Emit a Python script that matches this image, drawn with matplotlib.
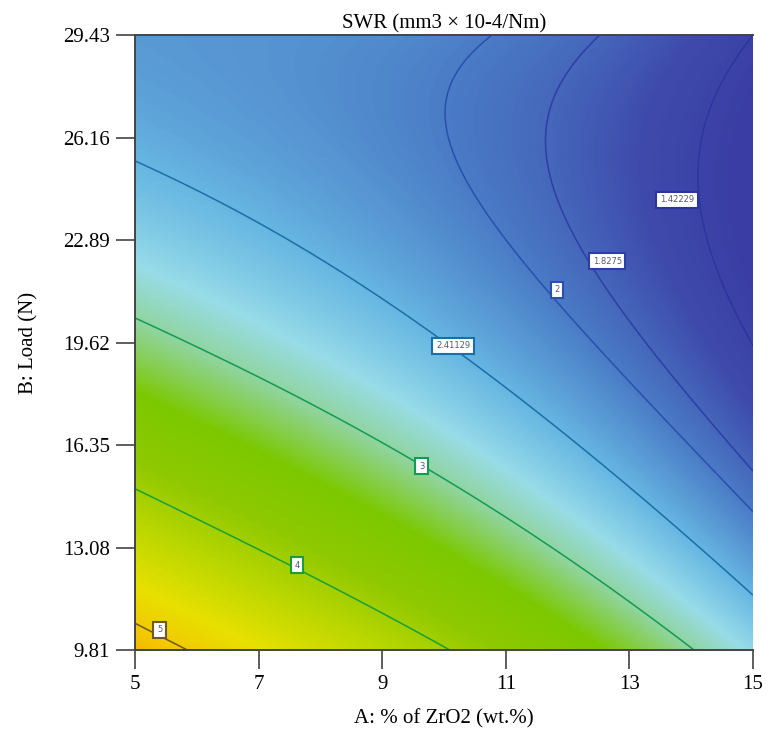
import numpy as np
import matplotlib.pyplot as plt
from matplotlib.colors import LinearSegmentedColormap, Normalize

plt.rcParams['font.family'] = ['Liberation Serif', 'DejaVu Serif']

# points: (ZrO2 wt.%, load N, SWR)
c_x = [5.00, 7.35, 9.82, 10.15, 12.64, 15.00,
       5.00, 5.70, 9.64, 9.94, 13.93,
       5.00, 7.62, 10.10,
       5.00, 5.40, 5.92,
       10.34, 9.98, 10.26, 11.02, 11.80, 12.48, 13.71, 15.00,
       12.88, 12.09, 11.91, 12.20, 12.64, 13.45, 14.42, 15.00,
       15.00, 14.26, 13.82, 13.77, 14.03, 14.79, 15.00,
       5.00, 8.00, 15.00]
c_y = [26.08, 23.31, 19.80, 19.29, 15.24, 11.63,
       20.40, 19.70, 15.65, 15.14, 9.81,
       14.69, 12.52, 9.81,
       10.55, 10.45, 9.81,
       29.43, 27.77, 25.35, 22.99, 21.30, 19.70, 17.05, 14.60,
       29.43, 27.77, 26.08, 23.62, 22.25, 19.70, 17.05, 16.19,
       28.73, 27.77, 25.86, 24.26, 22.35, 19.70, 18.65,
       29.43, 29.43, 9.81]
c_v = [2.41129] * 6 + [3] * 5 + [4] * 3 + [5] * 3 + [2] * 8 + [1.8275] * 8 \
    + [1.42229] * 7 + [2.2, 2.1, 2.7]

levels = [1.42229, 1.8275, 2, 2.41129, 3, 4, 5]
level_text = ['1.42229', '1.8275', '2', '2.41129', '3', '4', '5']
label_x = [13.77, 12.64, 11.83, 10.15, 9.64, 7.62, 5.40]
label_y = [24.17, 22.22, 21.30, 19.51, 15.68, 12.52, 10.45]
line_colors = ['#2b35a0', '#2d3ea6', '#2a4fae', '#1c6ea6', '#139a55', '#17a03a', '#6e5a1e']

x_ticks = [5, 7, 9, 11, 13, 15]
y_ticks = [9.81, 13.08, 16.35, 19.62, 22.89, 26.16, 29.43]


def terms(x, y):
    a = (np.asarray(x) - 10) / 5
    b = (np.asarray(y) - 19.62) / 9.81
    return np.stack([np.ones_like(a), a, b, a * b, a**2, b**2,
                     a**2 * b, a * b**2, a**3, b**3], axis=-1)


# response surface fitted to the points
coef, *_ = np.linalg.lstsq(terms(c_x, c_y), np.array(c_v), rcond=None)

gx, gy = np.meshgrid(np.linspace(5, 15, 300), np.linspace(9.81, 29.43, 300))
swr = terms(gx, gy) @ coef

cmap = LinearSegmentedColormap.from_list('de', [
    (0.00, '#3a3ea4'), (0.07, '#3e4aab'), (0.17, '#4a7cc6'),
    (0.27, '#66b6e2'), (0.355, '#98dce8'), (0.42, '#8fd49a'),
    (0.51, '#7cc800'), (0.61, '#8ec800'), (0.71, '#b8d600'),
    (0.83, '#e8e000'), (0.93, '#f4c400'), (1.00, '#f09a10')])
norm = Normalize(vmin=1.3, vmax=5.4)

fig = plt.figure(figsize=(7.68, 7.48), dpi=100)
ax = fig.add_axes([0.1758, 0.131, 0.8047, 0.8222])

ax.pcolormesh(gx, gy, swr, cmap=cmap, norm=norm, shading='gouraud')
ax.contour(gx, gy, swr, levels=levels, colors=line_colors, linewidths=1.1)

for tx, ty, t, c in zip(label_x, label_y, level_text, line_colors):
    ax.text(tx, ty, t, fontsize=6, ha='center', va='center', family='DejaVu Sans',
            color='#555577', zorder=5,
            bbox=dict(boxstyle='square,pad=0.45', fc='white', ec=c, lw=1.5))

ax.set_xlim(5, 15)
ax.set_ylim(9.81, 29.43)
ax.set_xticks(x_ticks)
ax.set_yticks(y_ticks)
ax.set_yticklabels([f'{v:.2f}' for v in y_ticks])
ax.tick_params(axis='both', labelsize=15, length=14, width=1.1, color='#333333', pad=4)
for s in ['left', 'bottom', 'top']:
    ax.spines[s].set_color('#444444')
    ax.spines[s].set_linewidth(1.4)
ax.spines['right'].set_visible(False)

ax.set_title('SWR (mm3 \u00d7 10-4/Nm)', fontsize=15, pad=5)
ax.set_xlabel('A: % of ZrO2 (wt.%)', fontsize=15, labelpad=11)
ax.set_ylabel('B: Load (N)', fontsize=15, labelpad=18)

fig.savefig('out.png', dpi=100)
